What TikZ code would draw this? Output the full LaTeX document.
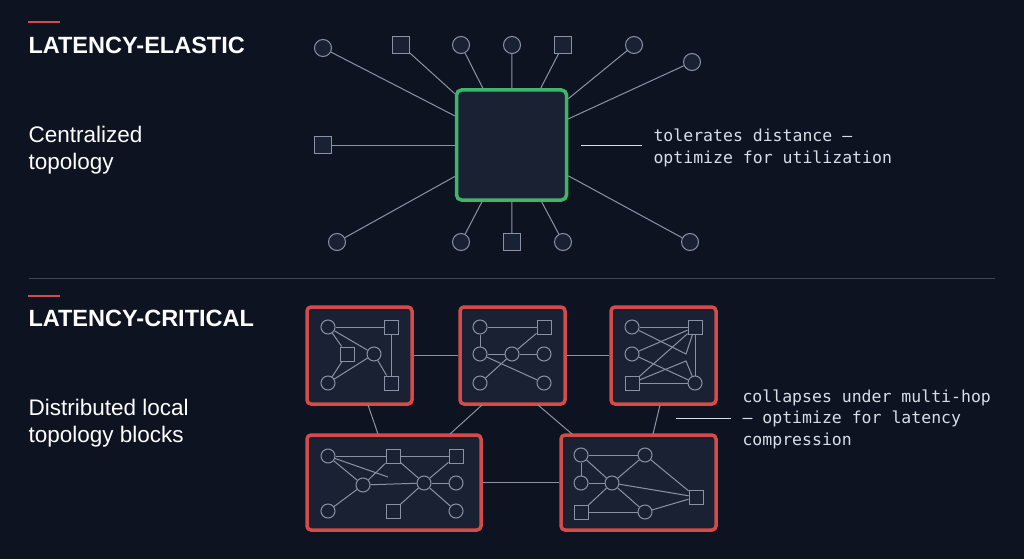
\documentclass[tikz,border=0pt]{standalone}
\usepackage{fontspec}
\setmainfont{Liberation Sans}
\setmonofont{DejaVu Sans Mono}
\usetikzlibrary{positioning}
\definecolor{bgc}{HTML}{0E1322}
\definecolor{wire}{HTML}{8A93A6}
\definecolor{cellfill}{HTML}{1A2133}
\definecolor{hubgreen}{HTML}{3DB56B}
\definecolor{blockred}{HTML}{D34B4B}
\definecolor{softtext}{HTML}{D9DDE5}

\begin{document}
\begin{tikzpicture}[x=1pt,y=-1pt,
        wire/.style={draw=wire,line width=1pt},
        dot/.style={circle,draw=wire,fill=cellfill,line width=1pt,minimum size=17pt,inner sep=0pt},
        box/.style={rectangle,draw=wire,fill=cellfill,line width=1pt,minimum size=17pt,inner sep=0pt},
        sdot/.style={dot,minimum size=14pt},
        sbox/.style={box,minimum size=14pt},
        hub/.style={rectangle,rounded corners=5pt,draw=hubgreen,fill=cellfill,line width=3.5pt,minimum size=110pt},
        block/.style={rounded corners=4pt,draw=blockred,fill=cellfill,line width=3.5pt},
        heading/.style={anchor=west,text=white,font=\fontsize{23.5}{26}\selectfont\bfseries},
        caption/.style={anchor=west,align=left,text=white,font=\fontsize{22.5}{27}\selectfont},
        note/.style={anchor=west,align=left,text=softtext,font=\ttfamily\fontsize{16.5}{21.5}\selectfont},
        accent/.style={draw=blockred,line width=2.5pt},
    ]
        \fill[bgc] (0,0) rectangle (1024,559);

        % headings
        \draw[accent] (28,22) -- (60,22);
        \node[heading] (elastic) at (25,45) {LATENCY-ELASTIC};
        \node[caption] (central) at (25,150) {Centralized\\topology};
        \draw[draw=wire!40!bgc,line width=0.8pt] (29,278) -- (995,278);
        \draw[accent] (28,296) -- (60,296);
        \node[heading] (critical) at (25,318) {LATENCY-CRITICAL};
        \node[caption] (distrib) at (25,423) {Distributed local\\topology blocks};

        % centralized star
        \node[hub] (hub) at (511.5,145) {};
        \foreach \n/\s/\x/\y in {a/dot/323/48, b/box/401/45, c/dot/461/45, d/dot/512/45,
                e/box/563/45, f/dot/634/45, g/dot/692/62, h/box/323/145, i/dot/337/242,
                j/dot/461/242, k/box/512/242, l/dot/563/242, m/dot/690/242}
            \node[\s] (sat\n) at (\x,\y) {};
        \foreach \n in {a,b,c,d,e,f,g,h,i,j,k,l,m}
            \draw[wire] (sat\n) -- (hub);
        \coordinate (tolA) at (581,145);
        \coordinate (tolB) at (642,145);
        \draw[wire,draw=softtext] (tolA) -- (tolB);
        \node[note] (tolerate) at (650,148) {tolerates distance —\\optimize for utilization};

        % blocks
        \node[block,minimum width=105pt,minimum height=97pt] (blkA) at (359.5,355.5) {};
        \node[block,minimum width=105pt,minimum height=97pt] (blkB) at (512.5,355.5) {};
        \node[block,minimum width=105pt,minimum height=97pt] (blkC) at (663.5,355.5) {};
        \node[block,minimum width=174pt,minimum height=95pt] (blkD) at (394,482.5) {};
        \node[block,minimum width=155pt,minimum height=95pt] (blkE) at (638.5,482.5) {};

        \coordinate (lnA1) at (368,405); \coordinate (lnD1) at (378,434);
        \coordinate (lnB1) at (482,405); \coordinate (lnD2) at (450,434);
        \coordinate (lnB2) at (538,405); \coordinate (lnE1) at (572,434);
        \coordinate (lnC1) at (660,405); \coordinate (lnE2) at (653,434);
        \draw[wire] (blkA) -- (blkB);
        \draw[wire] (blkB) -- (blkC);
        \draw[wire] (blkD) -- (blkE);
        \draw[wire] (lnA1) -- (lnD1);
        \draw[wire] (lnB1) -- (lnD2);
        \draw[wire] (lnB2) -- (lnE1);
        \draw[wire] (lnC1) -- (lnE2);

        % block A
        \node[sdot] (a1) at (328,327) {};
        \node[sbox] (a2) at (391,327) {};
        \node[sbox] (a3) at (347,354) {};
        \node[sdot] (a4) at (374,354) {};
        \node[sdot] (a5) at (328,383) {};
        \node[sbox] (a6) at (391,383) {};
        \foreach \u/\v in {a1/a2,a1/a3,a1/a4,a3/a5,a5/a4,a4/a6,a2/a6}
            \draw[wire] (\u) -- (\v);

        % block B
        \node[sdot] (b1) at (480,327) {};
        \node[sbox] (b2) at (544,327) {};
        \node[sdot] (b3) at (480,354) {};
        \node[sdot] (b4) at (512,354) {};
        \node[sdot] (b5) at (544,354) {};
        \node[sdot] (b6) at (480,383) {};
        \node[sdot] (b7) at (544,383) {};
        \foreach \u/\v in {b1/b2,b1/b3,b3/b4,b4/b5,b4/b2,b6/b4,b3/b7}
            \draw[wire] (\u) -- (\v);

        % block C
        \node[sdot] (c1) at (632,327) {};
        \node[sbox] (c2) at (695,327) {};
        \node[sdot] (c3) at (632,354) {};
        \node[sbox] (c4) at (632,383) {};
        \node[sdot] (c5) at (695,383) {};
        \coordinate (cbend1) at (686,354);
        \coordinate (cbend2) at (686,361);
        \draw[wire] (c1) -- (cbend1) -- (c2);
        \draw[wire] (c4) -- (cbend2) -- (c5);
        \foreach \u/\v in {c1/c2,c3/c2,c4/c2,c2/c5,c3/c5,c4/c5}
            \draw[wire] (\u) -- (\v);

        % block D
        \node[sdot] (d1) at (328,456) {};
        \node[sbox] (d2) at (393,456) {};
        \node[sbox] (d3) at (456,456) {};
        \node[sdot] (d4) at (363,485) {};
        \node[sdot] (d5) at (424,483) {};
        \node[sdot] (d6) at (456,483) {};
        \node[sdot] (d7) at (328,511) {};
        \node[sbox] (d8) at (393,511) {};
        \node[sdot] (d9) at (456,511) {};
        \coordinate (dstub) at (388,477);
        \draw[wire] (d1) -- (dstub);
        \foreach \u/\v in {d1/d2,d2/d3,d1/d4,d4/d2,d4/d5,d4/d7,d2/d5,d3/d5,d5/d6,d5/d8,d5/d9}
            \draw[wire] (\u) -- (\v);

        % block E
        \node[sdot] (e1) at (581,455) {};
        \node[sdot] (e2) at (645,455) {};
        \node[sdot] (e3) at (581,483) {};
        \node[sdot] (e4) at (612,483) {};
        \node[sbox] (e5) at (696,497) {};
        \node[sbox] (e6) at (581,512) {};
        \node[sdot] (e7) at (645,512) {};
        \foreach \u/\v in {e1/e2,e1/e3,e1/e4,e4/e2,e2/e5,e4/e5,e3/e4,e4/e6,e4/e7,e6/e7,e7/e5}
            \draw[wire] (\u) -- (\v);

        \coordinate (colA) at (676,418);
        \coordinate (colB) at (731,418);
        \draw[wire,draw=softtext] (colA) -- (colB);
        \node[note] (collapse) at (739,419) {collapses under multi-hop\\— optimize for latency\\compression};
    \end{tikzpicture}
\end{document}
